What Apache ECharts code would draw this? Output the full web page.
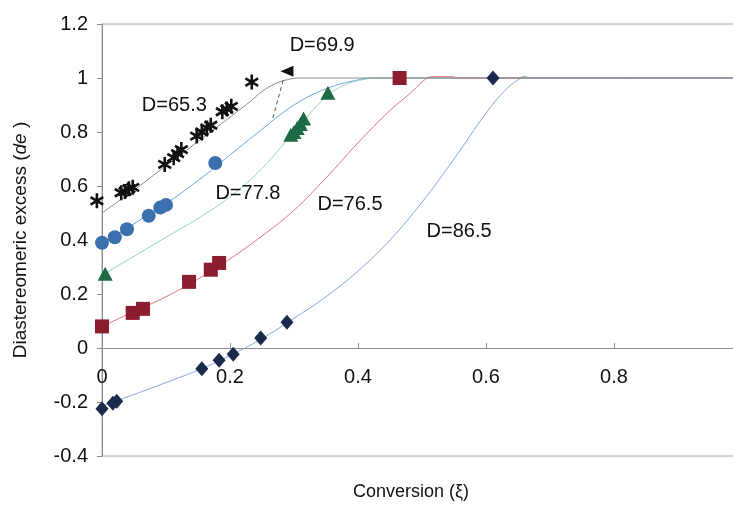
<!DOCTYPE html>
<html>
<head>
<meta charset="utf-8">
<script src="https://cdn.jsdelivr.net/npm/echarts@6/dist/echarts.min.js"></script>
<style>
html,body{margin:0;padding:0;background:#fff;}
#c{width:733px;height:506px;}
</style>
</head>
<body>
<div id="c"></div>
<script>
// ---- data ----
var xTicks = [0, 0.2, 0.4, 0.6, 0.8, 1];
var yTicks = [-0.4, -0.2, 0, 0.2, 0.4, 0.6, 0.8, 1, 1.2];

// D=65.3 (black asterisks + dark line)
var starX = [-0.008, 0.03, 0.036, 0.042, 0.048, 0.098, 0.112, 0.118, 0.124, 0.148, 0.156, 0.164, 0.17, 0.188, 0.195, 0.202, 0.234];
var starY = [0.545, 0.575, 0.58, 0.59, 0.595, 0.68, 0.705, 0.72, 0.735, 0.785, 0.8, 0.815, 0.825, 0.875, 0.885, 0.895, 0.985];
var blackLineX = [0, 0.05, 0.1, 0.15, 0.2, 0.23, 0.25, 0.27, 0.29, 0.31, 1];
var blackLineY = [0.5, 0.585, 0.675, 0.765, 0.855, 0.91, 0.95, 0.978, 0.994, 1, 1];

// blue circles
var circleX = [0, 0.02, 0.039, 0.073, 0.091, 0.1, 0.177];
var circleY = [0.39, 0.41, 0.44, 0.49, 0.52, 0.53, 0.685];
var blueLineX = [0, 0.05, 0.1, 0.15, 0.2, 0.25, 0.3, 0.35, 0.4, 0.43, 1];
var blueLineY = [0.385, 0.46, 0.535, 0.62, 0.715, 0.81, 0.9, 0.96, 0.993, 1, 1];

// green triangles
var triX = [0.005, 0.295, 0.3, 0.305, 0.31, 0.315, 0.353];
var triY = [0.275, 0.79, 0.8, 0.815, 0.83, 0.85, 0.945];
var greenLineX = [0, 0.05, 0.1, 0.15, 0.2, 0.25, 0.3, 0.35, 0.38, 0.41, 0.43, 1];
var greenLineY = [0.27, 0.34, 0.41, 0.48, 0.56, 0.665, 0.8, 0.93, 0.975, 0.995, 1, 1];

// red squares (D=76.5)
var squareX = [0, 0.048, 0.064, 0.136, 0.17, 0.183, 0.465];
var squareY = [0.08, 0.13, 0.145, 0.245, 0.29, 0.315, 1.0];
var redLineX = [0, 0.05, 0.1, 0.15, 0.2, 0.25, 0.3, 0.35, 0.4, 0.45, 0.48, 0.5, 0.515, 0.545, 0.56, 1];
var redLineY = [0.08, 0.135, 0.19, 0.255, 0.33, 0.415, 0.51, 0.63, 0.76, 0.88, 0.94, 0.985, 1.005, 1.005, 1, 1];

// navy diamonds (D=86.5)
var diamondX = [0, 0.017, 0.023, 0.156, 0.183, 0.205, 0.248, 0.289, 0.611];
var diamondY = [-0.225, -0.205, -0.197, -0.077, -0.045, -0.023, 0.037, 0.095, 1.0];
var navyLineX = [0, 0.05, 0.1, 0.15, 0.2, 0.25, 0.3, 0.35, 0.4, 0.45, 0.5, 0.55, 0.6, 0.63, 0.65, 0.66, 0.67, 1];
var navyLineY = [-0.215, -0.172, -0.128, -0.082, -0.028, 0.035, 0.11, 0.19, 0.285, 0.4, 0.54, 0.7, 0.87, 0.955, 0.993, 1.006, 1, 1];

// annotations
var noteText = ['D=65.3', 'D=69.9', 'D=77.8', 'D=76.5', 'D=86.5'];
var noteX = [0.113, 0.344, 0.228, 0.3875, 0.558];
var noteY = [0.9, 1.122, 0.574, 0.53, 0.433];
var arrowX = [0.267, 0.284];
var arrowY = [0.852, 1.0];
var arrowHeadX = [0.289];
var arrowHeadY = [1.025];

function zip(a, b) { return a.map(function (v, i) { return [v, b[i]]; }); }

var FONT = 'Liberation Sans, Arial, sans-serif';
var STAR = 'path://M-1.4,-8 L1.4,-8 L1.4,8 L-1.4,8 Z M6.23,-5.21 L7.63,-2.79 L-6.23,5.21 L-7.63,2.79 Z M-7.63,-2.79 L-6.23,-5.21 L7.63,2.79 L6.23,5.21 Z';

var chart = echarts.init(document.getElementById('c'), null, {renderer: 'canvas'});

function lineSeries(x, y, color, z) {
  return {
    type: 'line', data: zip(x, y), showSymbol: false, symbol: 'none',
    smooth: 0.4, silent: true, z: z || 2,
    lineStyle: {color: color, width: 1}
  };
}
function scatterSeries(x, y, symbol, size, color) {
  return {
    type: 'scatter', data: zip(x, y), symbol: symbol, symbolSize: size,
    clip: false, z: 4, itemStyle: {color: color, opacity: 1}
  };
}

var option = {
  animation: false,
  backgroundColor: '#ffffff',
  grid: {left: 102, right: -9, top: 24, bottom: 50, containLabel: false, outerBoundsMode: 'none',
    show: true, borderColor: '#a6a6a6', borderWidth: 1, backgroundColor: 'transparent'},
  xAxis: {
    type: 'value', min: xTicks[0], max: xTicks[xTicks.length - 1], interval: 0.2,
    position: 'bottom', offset: -108,
    axisLine: {onZero: false, lineStyle: {color: '#8c8c8c', width: 1}},
    axisTick: {show: true, inside: true, length: 5, lineStyle: {color: '#8c8c8c'}},
    axisLabel: {color: '#111', fontFamily: FONT, fontSize: 20, margin: 19,
      formatter: function (v) { return String(+v.toFixed(1)); }},
    splitLine: {show: false}
  },
  yAxis: {
    type: 'value', min: yTicks[0], max: yTicks[yTicks.length - 1], interval: 0.2,
    axisLine: {show: true, onZero: false, lineStyle: {color: '#8c8c8c', width: 1}},
    axisTick: {show: true, inside: false, length: 5, lineStyle: {color: '#8c8c8c'}},
    axisLabel: {color: '#111', fontFamily: FONT, fontSize: 20, margin: 14,
      formatter: function (v) { return String(+v.toFixed(1)); }},
    splitLine: {show: false},
    name: '{n|Diastereomeric excess (}{i|de}{n| )}',
    nameLocation: 'middle', nameGap: 72, nameRotate: 90, nameMoveOverlap: false,
    nameTextStyle: {rich: {
      n: {fontFamily: FONT, fontSize: 19, color: '#111'},
      i: {fontFamily: FONT, fontSize: 19, color: '#111', fontStyle: 'italic'}
    }}
  },
  series: [
    lineSeries(blueLineX, blueLineY, '#6aa6dc'),
    lineSeries(greenLineX, greenLineY, '#93d3bd'),
    lineSeries(redLineX, redLineY, '#e5707e'),
    lineSeries(navyLineX, navyLineY, '#86a4da'),
    lineSeries(blackLineX, blackLineY, '#8a8a8a', 3),
    {type: 'line', data: zip(arrowX, arrowY), showSymbol: false, symbol: 'none', silent: true, z: 3,
      lineStyle: {color: '#555', width: 1, type: [4, 3]}},
    scatterSeries(arrowHeadX, arrowHeadY, 'triangle', [11, 13], '#111'),
    scatterSeries(starX, starY, STAR, [14, 15], '#111'),
    scatterSeries(circleX, circleY, 'circle', 14, '#3a70ad'),
    scatterSeries(triX, triY, 'triangle', [15, 14], '#1d6b45'),
    scatterSeries(squareX, squareY, 'rect', 14, '#8b1d2e'),
    scatterSeries(diamondX, diamondY, 'diamond', [13, 15], '#1b2a4c')
  ]
};
option.series[6].symbolRotate = 90;
chart.setOption(option);

// axis title + annotations as text placed through the chart's own scales
var g = [{
  type: 'text', left: 353, top: 483, silent: true,
  style: {text: 'Conversion (\u03be)', fill: '#111', font: '18px ' + FONT}
}];
noteText.forEach(function (t, i) {
  var p = chart.convertToPixel({gridIndex: 0}, [noteX[i], noteY[i]]);
  g.push({type: 'text', x: p[0], y: p[1], silent: true, z: 10,
    style: {text: t, fill: '#111', font: '20px ' + FONT, align: 'center', verticalAlign: 'middle'}});
});
chart.setOption({graphic: g});
</script>
</body>
</html>
